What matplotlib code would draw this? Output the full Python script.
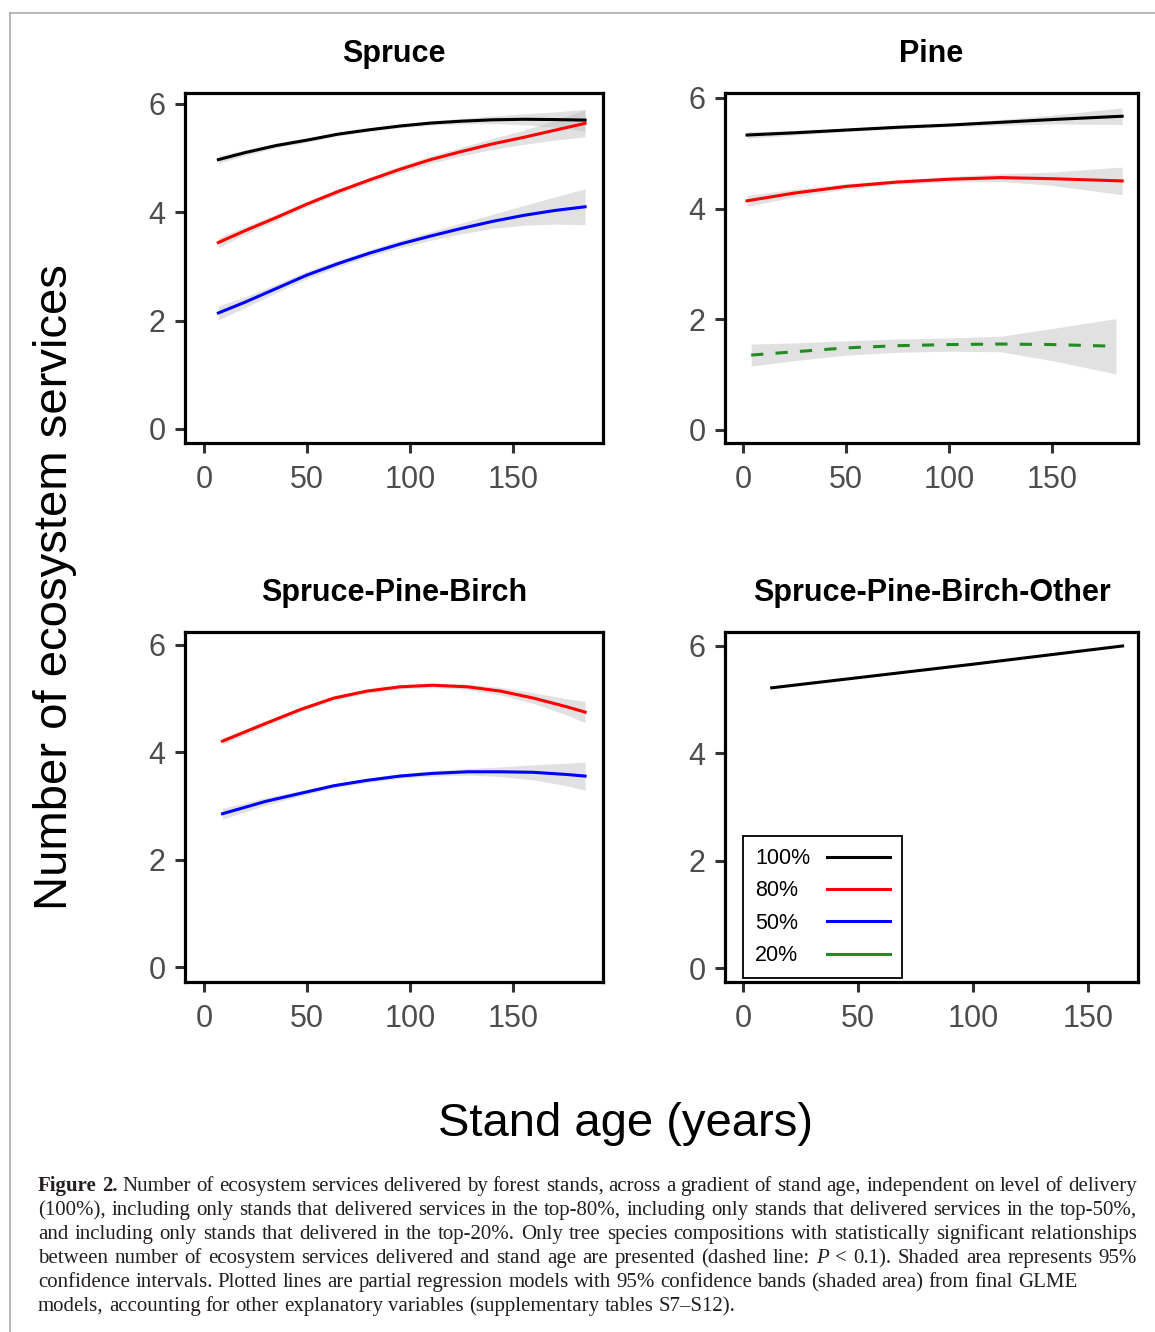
import numpy as np
import matplotlib
matplotlib.use('Agg')
import matplotlib.pyplot as plt
from matplotlib.lines import Line2D

plt.rcParams['font.family'] = ['Liberation Sans', 'DejaVu Sans']

# ---- data ----
# Spruce
spruce_age = [7, 20, 35, 50, 65, 80, 95, 110, 125, 140, 155, 170, 185]
spruce_100 = [4.97, 5.10, 5.23, 5.33, 5.44, 5.52, 5.59, 5.645, 5.68, 5.705, 5.715, 5.71, 5.70]
spruce_100_ci = [0.07, 0.05, 0.04, 0.04, 0.03, 0.03, 0.03, 0.04, 0.05, 0.07, 0.10, 0.14, 0.20]
spruce_80 = [3.44, 3.66, 3.90, 4.15, 4.38, 4.59, 4.79, 4.97, 5.12, 5.26, 5.38, 5.51, 5.64]
spruce_80_ci = [0.09, 0.07, 0.06, 0.05, 0.05, 0.05, 0.06, 0.07, 0.08, 0.10, 0.13, 0.18, 0.25]
spruce_50 = [2.14, 2.34, 2.59, 2.84, 3.05, 3.24, 3.41, 3.56, 3.70, 3.83, 3.94, 4.03, 4.10]
spruce_50_ci = [0.13, 0.10, 0.08, 0.07, 0.06, 0.06, 0.07, 0.08, 0.10, 0.13, 0.18, 0.25, 0.33]

# Pine
pine_age = [2, 25, 50, 75, 100, 125, 150, 184]
pine_100 = [5.33, 5.37, 5.42, 5.47, 5.51, 5.56, 5.61, 5.67]
pine_100_ci = [0.06, 0.04, 0.03, 0.03, 0.03, 0.05, 0.08, 0.15]
pine_80 = [4.14, 4.28, 4.40, 4.48, 4.53, 4.56, 4.54, 4.50]
pine_80_ci = [0.10, 0.07, 0.05, 0.04, 0.05, 0.07, 0.12, 0.25]
pine20_age = [4, 25, 50, 75, 100, 125, 150, 181]
pine_20 = [1.35, 1.41, 1.48, 1.52, 1.54, 1.55, 1.54, 1.51]
pine_20_ci = [0.20, 0.16, 0.13, 0.12, 0.12, 0.14, 0.29, 0.50]

# Spruce-Pine-Birch
spb_age = [9, 30, 47, 63, 79, 95, 111, 128, 144, 160, 176, 185]
spb_80 = [4.21, 4.54, 4.80, 5.01, 5.14, 5.22, 5.25, 5.22, 5.14, 5.01, 4.85, 4.75]
spb_80_ci = [0.06, 0.05, 0.04, 0.04, 0.04, 0.04, 0.04, 0.05, 0.07, 0.10, 0.15, 0.20]
spb_50 = [2.86, 3.09, 3.24, 3.38, 3.48, 3.56, 3.61, 3.64, 3.64, 3.63, 3.59, 3.56]
spb_50_ci = [0.10, 0.07, 0.05, 0.04, 0.04, 0.04, 0.05, 0.06, 0.09, 0.14, 0.21, 0.26]

# Spruce-Pine-Birch-Other
spbo_age = [12.5, 100, 165]
spbo_100 = [5.22, 5.66, 6.00]

levels = ['100%', '80%', '50%', '20%']
level_colors = {'100%': 'black', '80%': '#ff0000', '50%': '#0000ff', '20%': '#228B22'}

panels = [
    ('Spruce', [(spruce_age, spruce_100, spruce_100_ci, '100%', False),
                (spruce_age, spruce_80, spruce_80_ci, '80%', False),
                (spruce_age, spruce_50, spruce_50_ci, '50%', False)]),
    ('Pine', [(pine_age, pine_100, pine_100_ci, '100%', False),
              (pine_age, pine_80, pine_80_ci, '80%', False),
              (pine20_age, pine_20, pine_20_ci, '20%', True)]),
    ('Spruce-Pine-Birch', [(spb_age, spb_80, spb_80_ci, '80%', False),
                           (spb_age, spb_50, spb_50_ci, '50%', False)]),
    ('Spruce-Pine-Birch-Other', [(spbo_age, spbo_100, None, '100%', False)]),
]

W, H = 1155, 1332
fig = plt.figure(figsize=(W / 100, H / 100), dpi=100)
rend = fig.canvas.get_renderer()


def px_axes(x0, y0, x1, y1):
    return fig.add_axes([x0 / W, 1 - y1 / H, (x1 - x0) / W, (y1 - y0) / H])


boxes = [(185, 93, 603, 443), (725, 93, 1138, 443),
         (185, 632, 603, 982), (725, 632, 1138, 982)]
xlims = [(-9.2, 193.7), (-8.7, 191.7), (-9.2, 193.7), (-7.8, 171.7)]
ylims = [(-0.26, 6.2), (-0.24, 6.09), (-0.27, 6.24), (-0.26, 6.26)]

axes = []
for (title, series), box, xl, yl in zip(panels, boxes, xlims, ylims):
    ax = px_axes(*box)
    for age, val, ci, lev, dashed in series:
        x = np.array(age, dtype=float)
        y = np.array(val)
        if ci is not None:
            c = np.array(ci)
            ax.fill_between(x, y - c, y + c, color='#b5b5b5', alpha=0.4, lw=0)
        ln, = ax.plot(x, y, color=level_colors[lev], lw=2.2, solid_joinstyle='round')
        if dashed:
            ln.set_dashes((4, 4))
    ax.set_xlim(*xl)
    ax.set_ylim(*yl)
    ax.set_xticks([0, 50, 100, 150])
    ax.set_yticks([0, 2, 4, 6])
    for s in ax.spines.values():
        s.set_linewidth(2.3)
        s.set_color('black')
    ax.tick_params(length=7, width=2.2, color='#333333', labelsize=22,
                   labelcolor='#4d4d4d', pad=7)
    ax.tick_params(axis='x', pad=9)
    ax.set_title(title, fontsize=22, fontweight='bold', pad=22)
    axes.append(ax)

# legend: labels on the left, keys on the right, labels left-aligned
leg_size = 15.5
handles = [Line2D([], [], color=level_colors[l], lw=2.2) for l in levels]
leg = axes[3].legend(handles, levels, loc='lower left', bbox_to_anchor=(0.044, 0.011),
                     borderaxespad=0, fontsize=leg_size, markerfirst=False,
                     handlelength=2.9, handletextpad=0.8, labelspacing=0.53,
                     borderpad=0.55, fancybox=False, framealpha=1, edgecolor='black')
leg.get_frame().set_linewidth(1.3)
tw = [t.get_window_extent(rend).width for t in leg.get_texts()]
for col in leg._legend_handle_box.get_children():
    col.align = 'left'
    for row, w in zip(col.get_children(), tw):
        row.sep = 0.8 * leg_size + (max(tw) - w) * 72 / 100

fig.text(55 / W, 1 - 587 / H, 'Number of ecosystem services', rotation=90,
         fontsize=34, ha='center', va='center')
fig.text(625 / W, 1 - 1136 / H, 'Stand age (years)', fontsize=34,
         ha='center', va='baseline')

# thin page frame
fig.add_artist(Line2D([10 / W, 1], [1 - 13 / H, 1 - 13 / H], color='#aaaaaa', lw=1.2))
fig.add_artist(Line2D([10 / W, 10 / W], [0, 1 - 13 / H], color='#aaaaaa', lw=1.2))

# caption
caption = [
    ([('Figure 2.', 'bold', 'normal'),
      ('Number of ecosystem services delivered by forest stands, across a gradient of stand age, independent on level of delivery', 'normal', 'normal')], True),
    ([('(100%), including only stands that delivered services in the top-80%, including only stands that delivered services in the top-50%,', 'normal', 'normal')], True),
    ([('and including only stands that delivered in the top-20%. Only tree species compositions with statistically significant relationships', 'normal', 'normal')], True),
    ([('between number of ecosystem services delivered and stand age are presented (dashed line:', 'normal', 'normal'),
      ('P', 'normal', 'italic'),
      ('< 0.1). Shaded area represents 95%', 'normal', 'normal')], True),
    ([('confidence intervals. Plotted lines are partial regression models with 95% confidence bands (shaded area) from final GLME', 'normal', 'normal')], False),
    ([('models, accounting for other explanatory variables (supplementary tables S7–S12).', 'normal', 'normal')], False),
]
cap_left, cap_right = 38, 1137
cap_base = [1191, 1215, 1239, 1263, 1287, 1311]
serif = 'Liberation Serif'


def word_width(w, size, weight='normal', style='normal'):
    t = fig.text(0, 0, w, fontsize=size, fontweight=weight, fontstyle=style, family=serif)
    wd = t.get_window_extent(rend).width
    t.remove()
    return wd


def line_words(segs):
    out = []
    for text, weight, style in segs:
        for w in text.split(' '):
            if w:
                out.append((w, weight, style))
    return out


# pick a size so that the first line fills the text block width
ref = 10
words0 = line_words(caption[0][0])
nat = sum(word_width(w, ref, a, b) for w, a, b in words0) + \
    (len(words0) - 1) * (word_width('x x', ref) - word_width('xx', ref))
cap_size = ref * (cap_right - cap_left) / nat
space = word_width('x x', cap_size) - word_width('xx', cap_size)

for (segs, justify), yb in zip(caption, cap_base):
    words = line_words(segs)
    widths = [word_width(w, cap_size, a, b) for w, a, b in words]
    gap = space
    if justify and len(words) > 1:
        gap = (cap_right - cap_left - sum(widths)) / (len(words) - 1)
    x = cap_left
    for (w, a, b), wd in zip(words, widths):
        fig.text(x / W, 1 - yb / H, w, fontsize=cap_size, fontweight=a,
                 fontstyle=b, family=serif, color='#231f20', va='baseline')
        x += wd + gap

fig.savefig('out.png', dpi=100)
